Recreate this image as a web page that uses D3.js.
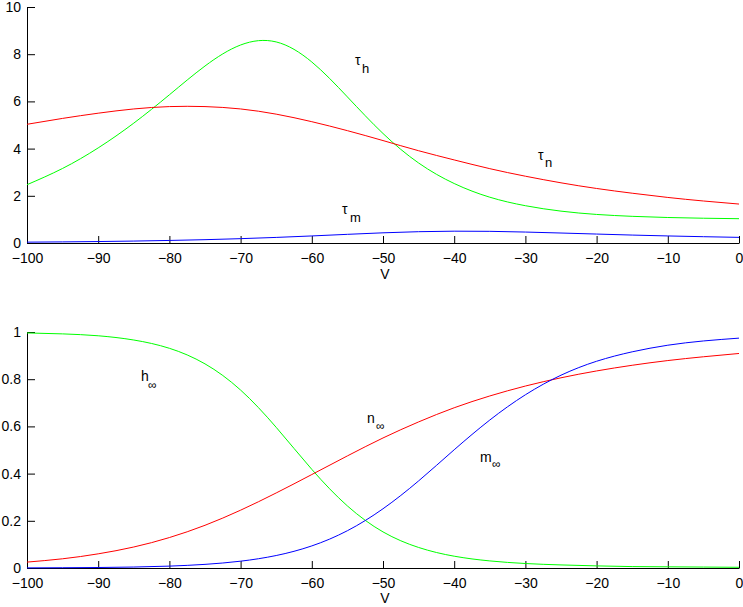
<!DOCTYPE html>
<html>
<head>
<meta charset="utf-8">
<script src="https://cdn.jsdelivr.net/npm/d3@7"></script>
<style>
  html, body { margin: 0; padding: 0; background: #fff; }
  svg { display: block; }
  text { font-family: "Liberation Sans", Arial, Helvetica, sans-serif; fill: #000; }
</style>
</head>
<body>
<svg id="chart" width="743" height="607"></svg>
<script>
// ---- data ----
const voltage = [-100,-95,-90,-85,-80,-75,-70,-65,-60,-55,-50,-45,-40,-35,-30,-25,-20,-15,-10,-5,0];

const tauN = [5.03,5.28,5.50,5.68,5.78,5.78,5.68,5.46,5.14,4.76,4.34,3.91,3.52,3.15,2.83,2.55,2.31,2.11,1.93,1.78,1.65];
const tauH = [2.47,3.16,4.03,5.08,6.28,7.50,8.39,8.52,7.67,6.19,4.64,3.39,2.52,1.94,1.58,1.35,1.21,1.13,1.08,1.05,1.03];
const tauM = [0.036,0.047,0.062,0.082,0.108,0.141,0.184,0.237,0.299,0.367,0.431,0.479,0.501,0.494,0.464,0.423,0.379,0.336,0.299,0.267,0.239];

const nInf = [0.025,0.039,0.060,0.089,0.129,0.181,0.245,0.318,0.396,0.475,0.551,0.619,0.679,0.729,0.771,0.806,0.835,0.859,0.879,0.895,0.909];
const mInf = [0.0005,0.0011,0.0021,0.0041,0.0080,0.0154,0.0289,0.0529,0.0936,0.158,0.251,0.369,0.501,0.627,0.734,0.817,0.876,0.916,0.944,0.962,0.974];
const hInf = [0.996,0.992,0.984,0.966,0.931,0.865,0.754,0.596,0.418,0.263,0.153,0.087,0.050,0.030,0.019,0.013,0.009,0.006,0.005,0.004,0.003];

const xTicks = [-100,-90,-80,-70,-60,-50,-40,-30,-20,-10,0];
const yTicksTop = [0,2,4,6,8,10];
const yTickLabelsTop = ["0","2","4","6","8","10"];
const yTicksBottom = [0,0.2,0.4,0.6,0.8,1];
const yTickLabelsBottom = ["0","0.2","0.4","0.6","0.8","1"];
const xLabel = "V";

const seriesTop = [
  {name: "τ", sub: "h", values: tauH, color: "#00ff00"},
  {name: "τ", sub: "n", values: tauN, color: "#ff0000"},
  {name: "τ", sub: "m", values: tauM, color: "#0000ff"}
];
const seriesBottom = [
  {name: "h", sub: "∞", values: hInf, color: "#00ff00"},
  {name: "n", sub: "∞", values: nInf, color: "#ff0000"},
  {name: "m", sub: "∞", values: mInf, color: "#0000ff"}
];

// ---- layout ----
const svg = d3.select("#chart");
const left = 27, right = 739;
const x = d3.scaleLinear().domain([-100, 0]).range([left, right]);

function panel(opts) {
  const y = d3.scaleLinear().domain(opts.yDomain).range([opts.bottom, opts.top]);
  const g = svg.append("g");

  const xAxis = d3.axisBottom(x).tickValues(xTicks).tickSizeInner(-7).tickSizeOuter(0).tickPadding(10)
    .tickFormat(d3.format("d"));
  const gx = g.append("g").attr("transform", `translate(0,${opts.bottom})`).call(xAxis);

  const yAxis = d3.axisLeft(y).tickValues(opts.yTicks).tickSizeInner(-8).tickSizeOuter(0).tickPadding(6)
    .tickFormat((d, i) => opts.yLabels[i]);
  const gy = g.append("g").attr("transform", `translate(${left},0)`).call(yAxis);

  [gx, gy].forEach(a => {
    a.selectAll("text").style("font-size", "14px").style("font-family", "'Liberation Sans', Arial, sans-serif").attr("fill", "#000");
    a.selectAll("line").attr("stroke", "#000");
    a.select(".domain").attr("stroke", "#000");
    a.attr("font-size", null);
  });

  const line = d3.line().x((d, i) => x(voltage[i])).y(d => y(d)).curve(d3.curveNatural);
  opts.series.forEach(s => {
    g.append("path").datum(s.values)
      .attr("fill", "none").attr("stroke", s.color).attr("stroke-width", 1)
      .attr("d", line);
  });

  g.append("text").attr("x", x(-50) + 2).attr("y", opts.bottom + opts.xLabelOffset)
    .attr("text-anchor", "middle").style("font-size", "14px").text(xLabel);

  opts.labels.forEach((lab, i) => {
    const s = opts.series[i];
    const t = g.append("text").attr("x", lab[0]).attr("y", lab[1]).style("font-size", "14px");
    t.append("tspan").text(s.name);
    t.append("tspan").attr("x", lab[2]).attr("y", lab[3]).style("font-size", lab[4] + "px").text(s.sub);
  });
}

panel({
  top: 7, bottom: 243, yDomain: [0, 10],
  yTicks: yTicksTop, yLabels: yTickLabelsTop,
  series: seriesTop, xLabelOffset: 36,
  labels: [[355, 65, 362, 73, 13], [538, 160, 545, 167, 13], [342, 214, 350, 222, 13]]
});

panel({
  top: 332, bottom: 568, yDomain: [0, 1],
  yTicks: yTicksBottom, yLabels: yTickLabelsBottom,
  series: seriesBottom, xLabelOffset: 35,
  labels: [[141, 381, 148, 389, 12], [367, 423, 376, 430, 12], [480, 462, 492, 468, 12]]
});
</script>
</body>
</html>
